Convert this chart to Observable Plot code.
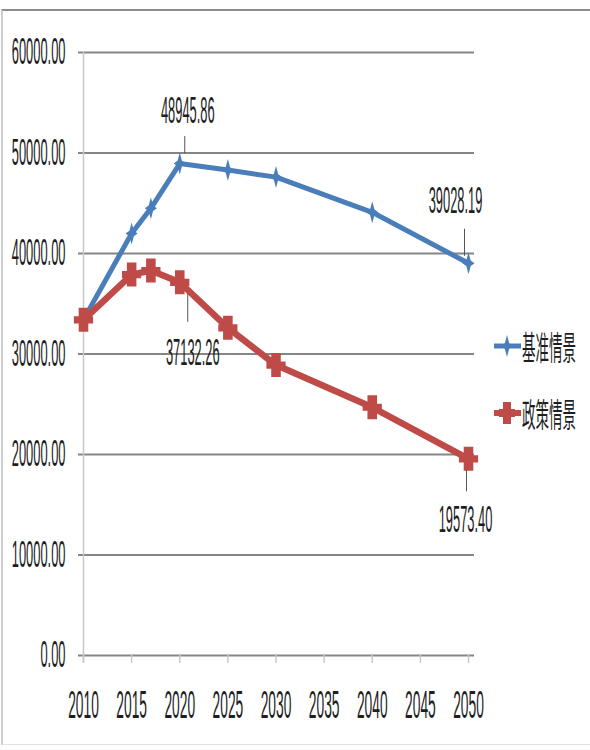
<!DOCTYPE html>
<html><head><meta charset="utf-8">
<script src="https://cdn.jsdelivr.net/npm/d3@7"></script>
<script src="https://cdn.jsdelivr.net/npm/@observablehq/plot@0.6"></script>
<style>
body{margin:0;background:#fff;}
#wrap{position:relative;width:590px;height:750px;overflow:hidden;background:#fff;}
#frame{position:absolute;left:1px;top:9px;width:640px;height:736px;border-top:2px solid #8c8c8c;border-left:2px solid #cfcfcf;border-bottom:1px solid #e2e2e2;box-sizing:border-box;}
#chart{position:absolute;left:0;top:0;}
.leg{position:absolute;left:494px;height:34px;display:flex;align-items:center;white-space:nowrap;}
.leg span{display:inline-block;font-family:"Noto Sans CJK SC","Noto Sans",sans-serif;font-size:27px;color:#1e1e1e;transform:scale(0.5,1.2);transform-origin:0 50%;margin-left:1px;}
</style></head>
<body>
<div id="wrap"><div id="frame"></div><div id="chart"></div></div>
<script>
const years = [2010, 2015, 2017, 2020, 2025, 2030, 2040, 2050];
const baseline = [33400, 42000, 44500, 48945.86, 48300, 47600, 44100, 39028.19];
const policy = [33400, 37900, 38300, 37132.26, 32600, 28900, 24700, 19573.40];
const seriesNames = ["基准情景", "政策情景"];
const xTicks = [2010, 2015, 2020, 2025, 2030, 2035, 2040, 2045, 2050];
const yTicks = [0, 10000, 20000, 30000, 40000, 50000, 60000];
const labelYears = [2020, 2050];

const BLUE = "#4A7EBB", RED = "#BE4B48";

const blue = years.map((y, i) => ({year: y, value: baseline[i], series: seriesNames[0]}));
const red = years.map((y, i) => ({year: y, value: policy[i], series: seriesNames[1]}));

const starSymbol = {draw(ctx, size) {
  const r = Math.sqrt(size / Math.PI);
  ctx.moveTo(0, -r); ctx.lineTo(0.2*r, -0.25*r); ctx.lineTo(0.55*r, 0);
  ctx.lineTo(0.2*r, 0.25*r); ctx.lineTo(0, r); ctx.lineTo(-0.2*r, 0.25*r);
  ctx.lineTo(-0.55*r, 0); ctx.lineTo(-0.2*r, -0.25*r); ctx.closePath();
}};
const plusSymbol = {draw(ctx, size) {
  const r = Math.sqrt(size / Math.PI);
  const a = 0.4*r, b = 0.8*r, c = 0.3*r;
  ctx.moveTo(-a, -r); ctx.lineTo(a, -r); ctx.lineTo(a, -c); ctx.lineTo(b, -c); ctx.lineTo(b, c);
  ctx.lineTo(a, c); ctx.lineTo(a, r); ctx.lineTo(-a, r); ctx.lineTo(-a, c); ctx.lineTo(-b, c);
  ctx.lineTo(-b, -c); ctx.lineTo(-a, -c); ctx.closePath();
}};

const fmt = d => d.value.toFixed(2);
const TXT = "#1e1e1e";
const pick = (arr, yr) => arr.filter(d => d.year === yr);

const chart = Plot.plot({
  width: 590, height: 750,
  marginLeft: 83, marginRight: 122, marginTop: 52, marginBottom: 95,
  x: {domain: [xTicks[0], xTicks[xTicks.length-1]], axis: null},
  y: {domain: [yTicks[0], yTicks[yTicks.length-1]], axis: null},
  style: {fontFamily: "'Liberation Sans', Arial, sans-serif", background: "transparent", color: TXT, overflow: "visible"},
  marks: [
    Plot.ruleY(yTicks, {y: d => d, stroke: "#858585", strokeWidth: 2, insetLeft: -5, insetRight: -6}),
    Plot.ruleX([xTicks[0]], {x: d => d, stroke: "#c8c8c8", strokeWidth: 1.5, insetBottom: -8}),
    Plot.ruleX(xTicks, {x: d => d, y1: () => yTicks[0], y2: () => yTicks[0], insetBottom: -8, stroke: "#c8c8c8", strokeWidth: 1.5}),
    Plot.text(yTicks, {y: d => d, text: d => d.toFixed(2), frameAnchor: "left", textAnchor: "end", lineAnchor: "middle", dx: -18, fontSize: 28, fill: TXT}),
    Plot.text(xTicks, {x: d => d, text: d => String(d), frameAnchor: "bottom", lineAnchor: "middle", dy: 50, fontSize: 30, fill: TXT}),
    Plot.line(blue, {x: "year", y: "value", stroke: BLUE, strokeWidth: 5}),
    Plot.dot(blue, {x: "year", y: "value", r: 11, symbol: starSymbol, fill: BLUE, stroke: "none"}),
    Plot.line(red, {x: "year", y: "value", stroke: RED, strokeWidth: 6.5}),
    Plot.dot(red, {x: "year", y: "value", r: 12, symbol: plusSymbol, fill: RED, stroke: "none"}),
    // leader lines
    Plot.ruleX(pick(blue, labelYears[0]), {x: "year", y1: "value", y2: "value", insetTop: -27, insetBottom: 10, dx: 5, stroke: "#555", strokeWidth: 1}),
    Plot.ruleX(pick(blue, labelYears[1]), {x: "year", y1: "value", y2: "value", insetTop: -34, insetBottom: 7, dx: -4, stroke: "#555", strokeWidth: 1}),
    Plot.ruleX(pick(red, labelYears[0]), {x: "year", y1: "value", y2: "value", insetTop: 12, insetBottom: -40, dx: 8, stroke: "#555", strokeWidth: 1}),
    Plot.ruleX(pick(red, labelYears[1]), {x: "year", y1: "value", y2: "value", insetTop: 12, insetBottom: -33, dx: -2, stroke: "#555", strokeWidth: 1}),
    // data labels
    Plot.text(pick(blue, labelYears[0]), {x: "year", y: "value", text: fmt, dx: 8, dy: -52, fontSize: 28, fill: TXT}),
    Plot.text(pick(blue, labelYears[1]), {x: "year", y: "value", text: fmt, dx: -13, dy: -62, fontSize: 28, fill: TXT}),
    Plot.text(pick(red, labelYears[0]), {x: "year", y: "value", text: fmt, dx: 13, dy: 71, fontSize: 28, fill: TXT}),
    Plot.text(pick(red, labelYears[1]), {x: "year", y: "value", text: fmt, dx: -3, dy: 62, fontSize: 28, fill: TXT})
  ]
});

// squeeze text horizontally (and stretch slightly vertically) to match the narrow, tall lettering of the reference
const S = 0.46, V = 1.3;
chart.querySelectorAll("text").forEach(t => {
  const fs = parseFloat(getComputedStyle(t).fontSize) || 28;
  const xa = parseFloat(t.getAttribute("x")) || 0;
  const dxa = t.getAttribute("dx");
  let dx = 0;
  if (dxa) dx = /em$/.test(dxa) ? parseFloat(dxa) * fs : parseFloat(dxa) || 0;
  const ax = xa + dx;
  const tr = t.getAttribute("transform") || "";
  t.setAttribute("transform", `${tr} translate(${ax},0) scale(${S},${V}) translate(${-ax},0)`);
});
document.getElementById("chart").appendChild(chart);

// legend
const legendItems = [
  {name: seriesNames[0], color: BLUE, top: 329, path: "M13 4 L15.2 12.2 L19 15 L15.2 17.8 L13 26 L10.8 17.8 L7 15 L10.8 12.2 Z", sw: 5},
  {name: seriesNames[1], color: RED, top: 396, path: "M9 4 H17 V11 H21 V19 H17 V26 H9 V19 H5 V11 H9 Z", sw: 6}
];
const wrap = document.getElementById("wrap");
legendItems.forEach(it => {
  const div = document.createElement("div");
  div.className = "leg";
  div.style.top = it.top + "px";
  div.innerHTML = `<svg width="27" height="30" viewBox="0 0 27 30"><line x1="0" x2="27" y1="15" y2="15" stroke="${it.color}" stroke-width="${it.sw}"/><path d="${it.path}" fill="${it.color}"/></svg><span>${it.name}</span>`;
  wrap.appendChild(div);
});
</script>
</body></html>
